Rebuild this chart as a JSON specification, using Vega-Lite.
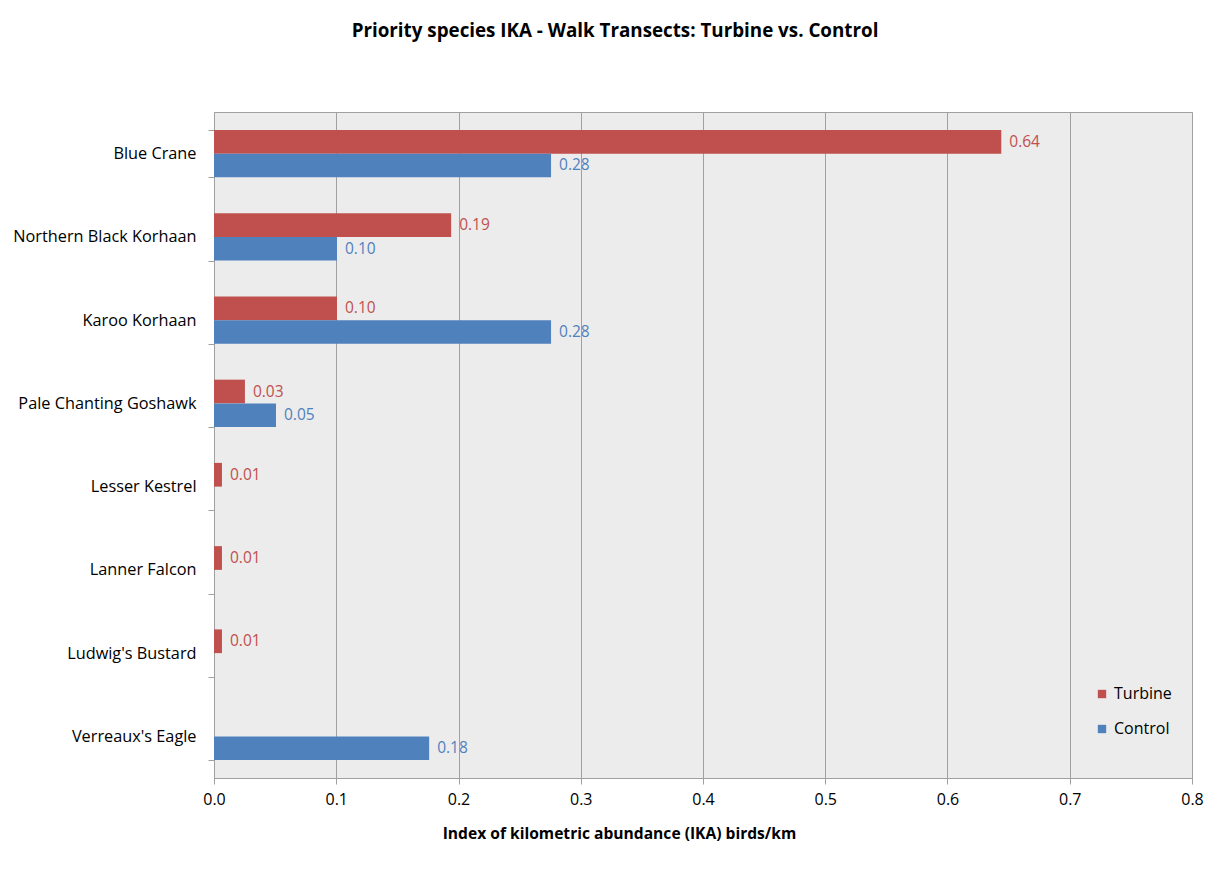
{
  "$schema": "https://vega.github.io/schema/vega-lite/v6.json",
  "width": 978,
  "height": 666,
  "autosize": "none",
  "padding": {"left": 214, "top": 112, "right": 34, "bottom": 104},
  "background": "white",
  "config": {
    "font": "Open Sans",
    "view": {"fill": "#ececec", "stroke": "#a0a0a0", "strokeWidth": 1}
  },
  "title": {
    "text": "Priority species IKA - Walk Transects: Turbine vs. Control",
    "font": "Open Sans",
    "fontSize": 18.8,
    "fontWeight": "bold",
    "color": "black",
    "anchor": "middle",
    "dx": -88,
    "offset": 63
  },
  "data": {
    "values": [
      {"species": "Blue Crane", "series": "Turbine", "ika": 0.644},
      {"species": "Blue Crane", "series": "Control", "ika": 0.2757},
      {"species": "Northern Black Korhaan", "series": "Turbine", "ika": 0.194},
      {"species": "Northern Black Korhaan", "series": "Control", "ika": 0.1006},
      {"species": "Karoo Korhaan", "series": "Turbine", "ika": 0.1006},
      {"species": "Karoo Korhaan", "series": "Control", "ika": 0.2757},
      {"species": "Pale Chanting Goshawk", "series": "Turbine", "ika": 0.0253},
      {"species": "Pale Chanting Goshawk", "series": "Control", "ika": 0.0507},
      {"species": "Lesser Kestrel", "series": "Turbine", "ika": 0.0065},
      {"species": "Lanner Falcon", "series": "Turbine", "ika": 0.0065},
      {"species": "Ludwig's Bustard", "series": "Turbine", "ika": 0.0065},
      {"species": "Verreaux's Eagle", "series": "Control", "ika": 0.176}
    ]
  },
  "encoding": {
    "y": {
      "field": "species",
      "type": "nominal",
      "sort": ["Blue Crane", "Northern Black Korhaan", "Karoo Korhaan", "Pale Chanting Goshawk", "Lesser Kestrel", "Lanner Falcon", "Ludwig's Bustard", "Verreaux's Eagle"],
      "scale": {"paddingInner": 0.43, "paddingOuter": 0.215},
      "axis": {
        "title": null,
        "tickBand": "extent",
        "tickSize": 6,
        "tickColor": "#a0a0a0",
        "domainColor": "#a0a0a0",
        "labelFont": "Open Sans",
        "labelFontSize": 16.3,
        "labelColor": "black",
        "labelPadding": 12,
        "labelLimit": 400,
        "grid": false
      }
    },
    "yOffset": {"field": "series", "type": "nominal", "sort": ["Turbine", "Control"]},
    "x": {
      "field": "ika",
      "type": "quantitative",
      "scale": {"domain": [0, 0.8], "nice": false},
      "axis": {
        "title": "Index of kilometric abundance  (IKA) birds/km",
        "titleFont": "Open Sans",
        "titleFontSize": 15.6,
        "titleFontWeight": "bold",
        "titleColor": "black",
        "titleX": 405,
        "titlePadding": 19,
        "values": [0, 0.1, 0.2, 0.3, 0.4, 0.5, 0.6, 0.7, 0.8],
        "format": ".1f",
        "labelFont": "Open Sans",
        "labelFontSize": 16,
        "labelColor": "black",
        "labelPadding": 7,
        "labelFlush": false,
        "tickSize": 6,
        "tickColor": "#a0a0a0",
        "domainColor": "#a0a0a0",
        "grid": true,
        "gridColor": "#a0a0a0",
        "gridWidth": 1
      }
    }
  },
  "layer": [
    {
      "mark": {"type": "bar"},
      "encoding": {
        "color": {
          "field": "series",
          "type": "nominal",
          "scale": {"domain": ["Turbine", "Control"], "range": ["#C0504D", "#4F81BD"]},
          "legend": {
            "title": null,
            "orient": "none",
            "legendX": 880,
            "legendY": 574,
            "symbolType": "square",
            "symbolSize": 70,
            "symbolStrokeWidth": 0,
            "labelFont": "Open Sans",
            "labelFontSize": 16,
            "labelColor": "black",
            "rowPadding": 19
          }
        }
      }
    },
    {
      "mark": {"type": "text", "align": "left", "baseline": "middle", "dx": 8, "font": "Open Sans", "fontSize": 15.5},
      "encoding": {
        "text": {"field": "ika", "type": "quantitative", "format": ".2f"},
        "color": {
          "field": "series",
          "type": "nominal",
          "scale": {"domain": ["Turbine", "Control"], "range": ["#C0504D", "#4F81BD"]},
          "legend": null
        }
      }
    }
  ]
}
